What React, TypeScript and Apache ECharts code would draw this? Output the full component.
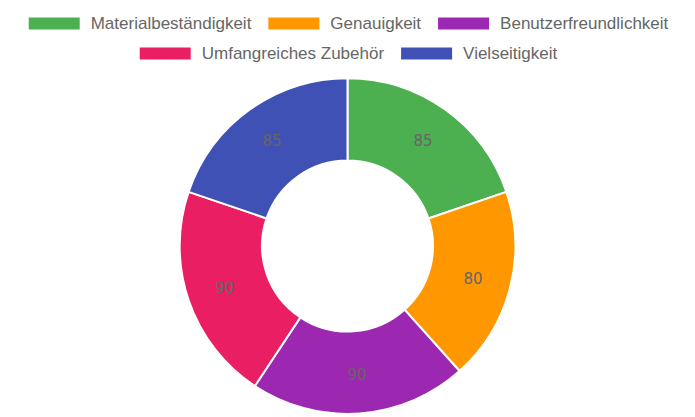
import React, { useEffect, useRef } from "react";
import * as echarts from "echarts";

const categories = [
  "Materialbeständigkeit",
  "Genauigkeit",
  "Benutzerfreundlichkeit",
  "Umfangreiches Zubehör",
  "Vielseitigkeit",
];
const values = [85, 80, 90, 90, 85];
const colors = ["#4caf50", "#ff9800", "#9c27b0", "#e91e63", "#3f51b5"];
const legendRow1 = categories.slice(0, 3);
const legendRow2 = categories.slice(3);

export default function App() {
  const ref = useRef<HTMLDivElement>(null);
  useEffect(() => {
    document.body.style.margin = "0";
    const chart = echarts.init(ref.current!, null, { renderer: "svg" });
    const legendBase = {
      left: "center",
      icon: "rect",
      itemWidth: 53,
      itemHeight: 14,
      itemGap: 15,
      padding: 0,
      textStyle: {
        fontSize: 17,
        lineHeight: 15,
        color: "#666",
        fontFamily: "Liberation Sans",
        padding: [0, 0, 0, 5],
      },
    };
    chart.setOption({
      animation: false,
      color: colors,
      legend: [
        { ...legendBase, top: 15, data: legendRow1 },
        { ...legendBase, top: 45, data: legendRow2 },
      ],
      series: [
        {
          type: "pie",
          center: ["50%", "59%"],
          radius: ["41%", "80.5%"],
          startAngle: 90,
          itemStyle: { borderColor: "#fff", borderWidth: 2 },
          label: {
            show: true,
            position: "inside",
            formatter: "{c}",
            fontSize: 15,
            color: "#666",
            fontFamily: "DejaVu Sans",
          },
          labelLine: { show: false },
          emphasis: { disabled: true },
          data: categories.map((name, i) => ({ name, value: values[i] })),
        },
      ],
    });
    return () => chart.dispose();
  }, []);
  return <div ref={ref} style={{ width: 695, height: 417 }} />;
}
